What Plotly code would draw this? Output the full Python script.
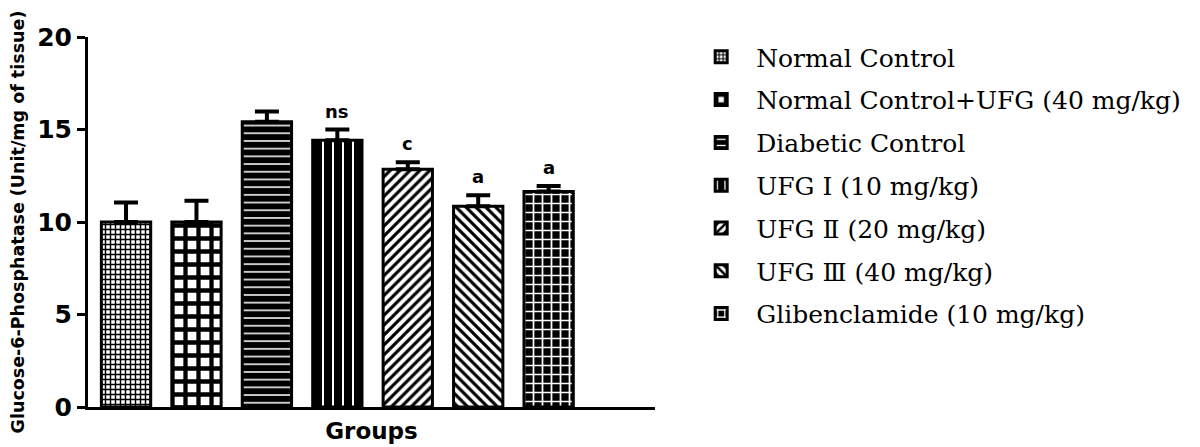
import plotly.graph_objects as go

groups = ["Normal Control", "Normal Control+UFG (40 mg/kg)", "Diabetic Control",
          "UFG Ⅰ (10 mg/kg)", "UFG Ⅱ (20 mg/kg)", "UFG Ⅲ (40 mg/kg)",
          "Glibenclamide (10 mg/kg)"]
means = [10.0, 10.0, 15.42, 14.42, 12.85, 10.85, 11.65]
sem = [1.05, 1.15, 0.55, 0.58, 0.38, 0.6, 0.3]
sig_labels = ["", "", "", "ns", "c", "a", "a"]
y_ticks = [0, 5, 10, 15, 20]

patterns = [
    dict(shape="+", size=5, solidity=0.5, fgcolor="black", bgcolor="white"),
    dict(shape="+", size=13, solidity=0.55, fgcolor="black", bgcolor="white"),
    dict(shape="-", size=7.7, solidity=0.2, fgcolor="white", bgcolor="black"),
    dict(shape="|", size=10, solidity=0.2, fgcolor="white", bgcolor="black"),
    dict(shape="/", size=7, solidity=0.45, fgcolor="black", bgcolor="white"),
    dict(shape="\\", size=7, solidity=0.45, fgcolor="black", bgcolor="white"),
    dict(shape="+", size=9, solidity=0.35, fgcolor="white", bgcolor="black"),
]

fig = go.Figure()
for i, g in enumerate(groups):
    pat = dict(patterns[i])
    pat["fillmode"] = "replace"
    fig.add_trace(go.Bar(
        x=[i], y=[means[i]], name=g, width=0.7, legendgroup=g,
        marker=dict(color=pat["bgcolor"], line=dict(color="black", width=3), pattern=pat),
        error_y=dict(type="data", symmetric=False, array=[sem[i]], arrayminus=[0],
                     color="black", thickness=4, width=12),
    ))
    if sig_labels[i]:
        fig.add_annotation(x=i, y=means[i] + sem[i], text=sig_labels[i], showarrow=False,
                           yanchor="bottom", yshift=6,
                           font=dict(family="DejaVu Sans", size=18, color="black", weight="bold"))

# page body has an 8px margin: figure is drawn from (8, 8)
fig.update_layout(
    width=1192, height=439,
    margin=dict(l=80, r=545, t=29, b=40, autoexpand=False),
    paper_bgcolor="white", plot_bgcolor="white",
    barmode="overlay",
    showlegend=True,
    legend=dict(x=1.055, y=1.008, xanchor="left", yanchor="top",
                font=dict(family="DejaVu Serif", size=25, color="black"),
                tracegroupgap=7.3, itemwidth=60, bgcolor="rgba(0,0,0,0)",
                maxheight=430),
    xaxis=dict(range=[-0.54, 7.51], showline=True, linecolor="black", linewidth=3,
               ticks="", showticklabels=False, showgrid=False, zeroline=False,
               title=dict(text="Groups", standoff=14,
                          font=dict(family="DejaVu Sans", size=23, color="black", weight="bold"))),
    yaxis=dict(range=[0, 20], tickvals=y_ticks, ticks="outside", ticklen=8, tickwidth=3,
               tickcolor="black", showline=True, linecolor="black", linewidth=3,
               showgrid=False, zeroline=False,
               tickfont=dict(family="DejaVu Sans", size=25, color="black", weight="bold"),
               title=dict(text="Glucose-6-Phosphatase (Unit/mg of tissue)", standoff=22,
                          font=dict(family="DejaVu Sans", size=17.5, color="black", weight="bold"))),
)

fig.write_html("out.html")
